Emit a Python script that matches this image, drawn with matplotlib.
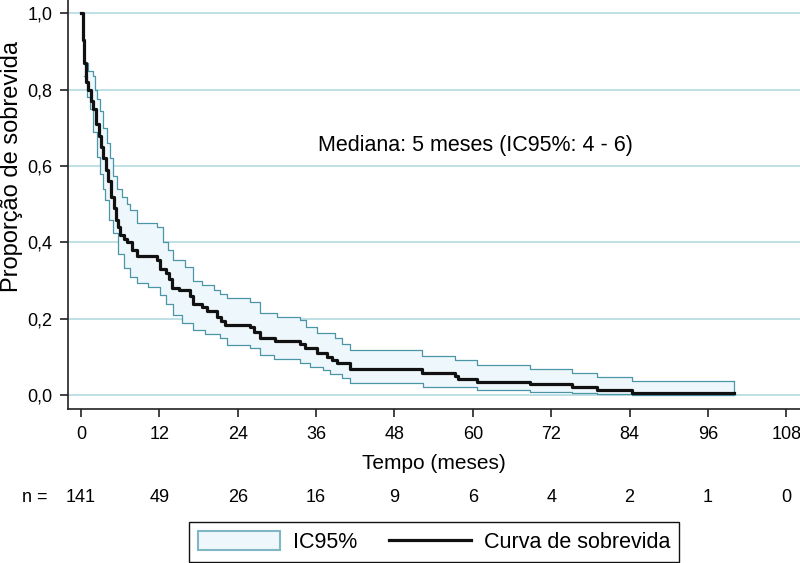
import numpy as np
import matplotlib.pyplot as plt
from matplotlib.patches import Patch
from matplotlib.lines import Line2D

# Kaplan-Meier estimate (months, survival)
km_t = [0, 0.25, 0.5, 0.8, 1.1, 1.5, 1.9, 2.3, 2.7, 3.0, 3.4, 3.8, 4.2, 4.6,
        5.0, 5.3, 5.6, 6.0, 6.5, 7.0, 7.8, 8.5, 11.6, 12.1, 13.0, 13.5, 14.0,
        15.0, 16.7, 17.2, 18.5, 19.3, 20.8, 21.5, 22.1, 25.9, 26.5, 27.4,
        29.7, 33.5, 34.3, 36.1, 37.6, 38.5, 39.2, 41.2, 52.2, 57.3, 57.8,
        60.6, 68.8, 75.2, 79.0, 84.4, 100.0]
km_s = [1.0, 0.93, 0.87, 0.82, 0.80, 0.77, 0.75, 0.71, 0.68, 0.65, 0.62, 0.59,
        0.56, 0.52, 0.49, 0.46, 0.44, 0.42, 0.41, 0.40, 0.38, 0.365, 0.355,
        0.33, 0.32, 0.305, 0.28, 0.275, 0.26, 0.24, 0.23, 0.22, 0.205, 0.195,
        0.185, 0.178, 0.165, 0.15, 0.142, 0.135, 0.123, 0.11, 0.10, 0.092,
        0.085, 0.07, 0.057, 0.05, 0.043, 0.036, 0.030, 0.022, 0.014, 0.007,
        0.007]

# 95% confidence band
up_t = [0.45, 1.0, 1.9, 2.1, 2.5, 2.9, 3.4, 3.9, 4.4, 4.95, 5.5, 6.2, 7.0,
        7.5, 8.5, 11.6, 12.6, 13.3, 14.1, 15.9, 17.2, 18.5, 20.3, 21.3, 22.3,
        25.9, 27.4, 30.0, 33.5, 34.5, 36.1, 38.9, 40.0, 41.2, 52.2, 57.3,
        60.6, 68.8, 75.2, 79.0, 84.4, 100.0]
up_s = [0.87, 0.85, 0.835, 0.80, 0.775, 0.745, 0.70, 0.66, 0.62, 0.575, 0.54,
        0.52, 0.50, 0.485, 0.45, 0.44, 0.40, 0.38, 0.355, 0.337, 0.30, 0.29,
        0.276, 0.265, 0.254, 0.245, 0.215, 0.204, 0.197, 0.18, 0.162, 0.149,
        0.135, 0.119, 0.103, 0.092, 0.079, 0.068, 0.058, 0.048, 0.038, 0.038]
lo_t = [0.45, 0.87, 1.3, 1.9, 2.4, 2.9, 3.4, 3.7, 4.3, 4.95, 5.7, 6.5, 7.5,
        8.5, 10.3, 12.1, 13.0, 14.1, 15.5, 17.2, 19.0, 21.3, 22.3, 25.9,
        27.4, 29.5, 33.5, 35.1, 37.0, 38.1, 40.0, 41.2, 52.4, 60.6, 68.8,
        75.2, 79.0, 84.4, 100.0]
lo_s = [0.835, 0.78, 0.75, 0.69, 0.625, 0.58, 0.54, 0.51, 0.46, 0.424, 0.37,
        0.332, 0.31, 0.293, 0.284, 0.263, 0.24, 0.21, 0.19, 0.171, 0.16,
        0.149, 0.132, 0.125, 0.105, 0.095, 0.085, 0.075, 0.065, 0.056, 0.045,
        0.033, 0.021, 0.014, 0.009, 0.006, 0.003, 0.001, 0.001]

risk_t = [0, 12, 24, 36, 48, 60, 72, 84, 96, 108]
risk_n = [141, 49, 26, 16, 9, 6, 4, 2, 1, 0]
y_ticks = [0.0, 0.2, 0.4, 0.6, 0.8, 1.0]

band_line = '#4a96a6'
band_fill = '#eef7fb'
grid_col = '#b9dde3'
plt.rcParams['font.family'] = ['Liberation Sans', 'DejaVu Sans']

fig = plt.figure(figsize=(8, 5.63), dpi=100)
ax = fig.add_axes([68 / 800, 1 - 409 / 563, 732 / 800, 409 / 563])

# band: fill on a common grid of step times
grid = np.unique(np.concatenate([up_t, lo_t]))
up_g = np.array(up_s)[np.searchsorted(up_t, grid, side='right') - 1]
lo_g = np.array(lo_s)[np.searchsorted(lo_t, grid, side='right') - 1]
ax.fill_between(grid, lo_g, up_g, step='post', color=band_fill, lw=0, zorder=2)
ax.step(up_t, up_s, where='post', color=band_line, lw=0.9, zorder=3)
ax.step(lo_t, lo_s, where='post', color=band_line, lw=0.9, zorder=3)
ax.vlines(up_t[-1], lo_s[-1], up_s[-1], color=band_line, lw=0.9, zorder=3)
ax.step(km_t, km_s, where='post', color='#111111', lw=2.3, zorder=4)

for y in y_ticks:
    ax.axhline(y, color=grid_col, lw=1.3, zorder=1)

ax.set_xlim(-2, 110.1)
ax.set_ylim(-0.036, 1.035)
ax.set_xticks(risk_t)
ax.set_yticks(y_ticks)
ax.set_yticklabels([f'{v:.1f}'.replace('.', ',') for v in y_ticks], fontsize=13)
ax.set_xticklabels([str(v) for v in risk_t], fontsize=13)
ax.tick_params(axis='both', length=6, width=1.2, color='#222222', pad=5)
ax.tick_params(axis='x', pad=6)
for s in ['top', 'right']:
    ax.spines[s].set_visible(False)
for s in ['left', 'bottom']:
    ax.spines[s].set_linewidth(1.2)
    ax.spines[s].set_color('#222222')

ax.set_xlabel('Tempo (meses)', fontsize=15, labelpad=8)
ax.set_ylabel('Proporção de sobrevida', fontsize=17, va='center')
ax.yaxis.set_label_coords(-0.077, 0.592)

ax.text(60.4, 0.655, 'Mediana: 5 meses (IC95%: 4 - 6)', fontsize=15.5,
        ha='center', va='center')

# number at risk
fig.text(35 / 800, 1 - 497 / 563, 'n =', fontsize=13,
         ha='center', va='center')
tr = ax.get_xaxis_transform()
for t, n in zip(risk_t, risk_n):
    ax.text(t, (409 - 497) / 409, str(n), transform=tr,
            fontsize=13, ha='center', va='center', clip_on=False)

handles = [Patch(facecolor=band_fill, edgecolor='#7fb7c5', lw=1.5),
           Line2D([], [], color='#111111', lw=2.3)]
leg = fig.legend(handles, ['IC95%', 'Curva de sobrevida'], ncol=2,
                 loc='center', bbox_to_anchor=(434 / 800, 1 - 542 / 563),
                 fontsize=15.5, frameon=True, fancybox=False, framealpha=1,
                 edgecolor='#111111', handlelength=3.8, handleheight=1.0,
                 handletextpad=0.6, columnspacing=1.5, borderpad=0.4)
leg.get_frame().set_linewidth(1.0)

fig.savefig('out.png', dpi=100)
